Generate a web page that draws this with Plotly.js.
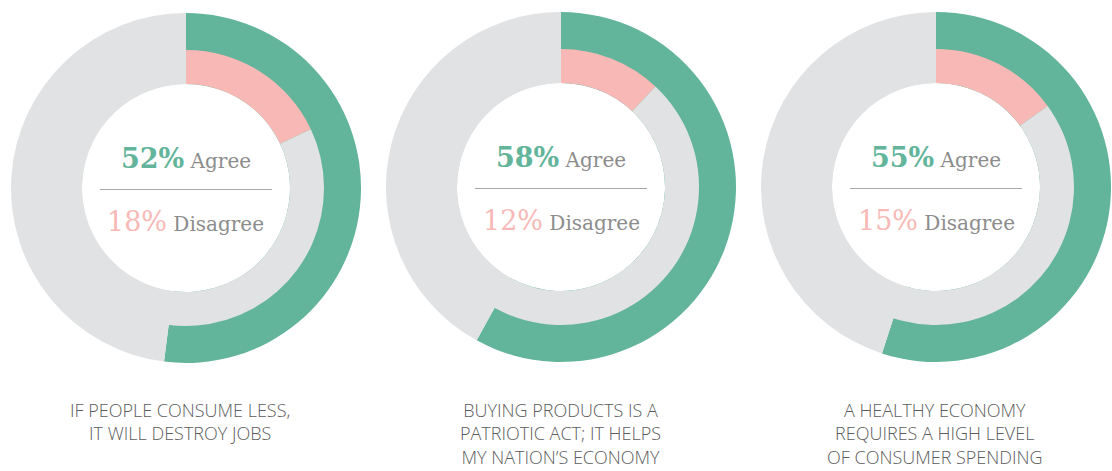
<!DOCTYPE html>
<html>
<head>
<meta charset="utf-8">
<script src="https://cdn.plot.ly/plotly-3.0.1.min.js"></script>
<style>html,body{margin:0;padding:0;background:#fff;}#chart{width:1112px;height:471px;}</style>
</head>
<body>
<div id="chart"></div>
<script>
const statements = [
  "IF PEOPLE CONSUME LESS,<br>IT WILL DESTROY JOBS",
  "BUYING PRODUCTS IS A<br>PATRIOTIC ACT; IT HELPS<br>MY NATION\u2019S ECONOMY",
  "A HEALTHY ECONOMY<br>REQUIRES A HIGH LEVEL<br>OF CONSUMER SPENDING"
];
const agree = [52, 58, 55];
const disagree = [18, 12, 15];
const agreeLabel = "Agree";
const disagreeLabel = "Disagree";

const W = 1112, H = 471;
const GREEN = "#62b49a", PINK = "#f8b9b6", GREY = "#e1e2e3", TXT = "#8c8c8c";
const centersX = [186, 561, 936];
const centersY = [188, 187, 187];
const R = 175, RMID = 138, RIN = 104;

function dom(cx, cy, r) {
  return { x: [(cx - r) / W, (cx + r) / W], y: [1 - (cy + r) / H, 1 - (cy - r) / H] };
}

const data = [];
const annotations = [];
const shapes = [];
agree.forEach((a, i) => {
  const cx = centersX[i], cy = centersY[i];
  data.push({
    type: "pie", values: [a, 100 - a], labels: ["Agree", "Other"],
    marker: { colors: [GREEN, GREY], line: { width: 0 } },
    hole: RIN / R, sort: false, direction: "clockwise", rotation: 0,
    textinfo: "none", hoverinfo: "none", showlegend: false,
    domain: dom(cx, cy, R)
  });
  data.push({
    type: "pie", values: [disagree[i], 100 - disagree[i]], labels: ["Disagree", "Other"],
    marker: { colors: [PINK, GREY], line: { width: 0 } },
    hole: RIN / RMID, sort: false, direction: "clockwise", rotation: 0,
    textinfo: "none", hoverinfo: "none", showlegend: false,
    domain: dom(cx, cy, RMID)
  });
  annotations.push({
    xref: "paper", yref: "paper", x: cx / W, y: 1 - (cy - 29) / H,
    xanchor: "center", yanchor: "middle", showarrow: false,
    font: { family: "DejaVu Serif", size: 20, color: TXT },
    text: '<span style="font-weight:bold;font-size:27px;color:' + GREEN + '">' + a + '%</span> ' + agreeLabel
  });
  annotations.push({
    xref: "paper", yref: "paper", x: cx / W, y: 1 - (cy + 33) / H,
    xanchor: "center", yanchor: "middle", showarrow: false,
    font: { family: "DejaVu Serif", size: 20, color: TXT },
    text: '<span style="font-size:27px;color:' + PINK + '">' + disagree[i] + '%</span> ' + disagreeLabel
  });
  shapes.push({
    type: "line", xref: "paper", yref: "paper",
    x0: (cx - 86) / W, x1: (cx + 86) / W, y0: 1 - (cy + 1.5) / H, y1: 1 - (cy + 1.5) / H,
    line: { color: "#a8a8a8", width: 1 }
  });
  annotations.push({
    xref: "paper", yref: "paper", x: (cx - (i === 0 ? 6 : 1)) / W, y: 1 - 396 / H,
    xanchor: "center", yanchor: "top", showarrow: false, align: "center",
    font: { family: "Open Sans", size: 18, color: "#5c5c5c", weight: 300 },
    text: statements[i]
  });
});

const layout = {
  width: W, height: H,
  margin: { l: 0, r: 0, t: 0, b: 0 },
  paper_bgcolor: "#ffffff", plot_bgcolor: "#ffffff",
  showlegend: false,
  annotations: annotations,
  shapes: shapes
};
Plotly.newPlot("chart", data, layout, { displayModeBar: false, staticPlot: true });
</script>
</body>
</html>
